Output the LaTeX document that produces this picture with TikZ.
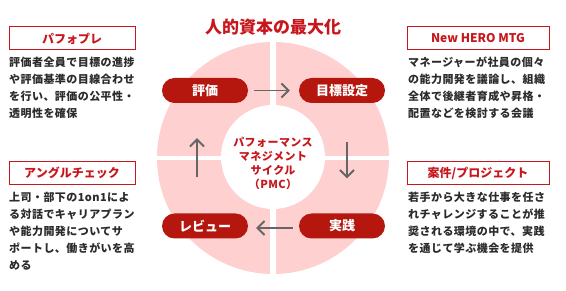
\documentclass[tikz,border=0pt]{standalone}
\usepackage{fontspec}
\setmainfont{Noto Sans CJK JP}
\newfontfamily\bodyfont{Noto Sans CJK JP}[LetterSpace=4]
\usetikzlibrary{arrows.meta,calc}
\definecolor{pmcred}{HTML}{B5170F}
\definecolor{titlered}{HTML}{C8161D}
\definecolor{pmcpink}{HTML}{FFD0D0}
\definecolor{bodygray}{HTML}{2B2B2B}
\definecolor{arrgray}{HTML}{666666}
\tikzset{
 pill/.style={fill=pmcred,text=white,rounded corners=12.5pt,minimum width=86pt,minimum height=25pt,inner sep=0pt,font=\bfseries\fontsize{13}{13}\selectfont},
 tagbox/.style={draw=titlered,line width=1pt,text=titlered,minimum height=23pt,inner sep=0pt,font=\bfseries\fontsize{12}{12}\selectfont},
 bodytext/.style={anchor=north west,align=left,inner sep=0pt,text=bodygray,font=\bodyfont\bfseries\fontsize{11}{17}\selectfont},
 cyc/.style={draw=arrgray,line width=1.9pt,-{Straight Barb[length=7pt,width=14pt]}}
}
\begin{document}
\begin{tikzpicture}[x=1pt,y=-1pt]
\useasboundingbox(0,0)rectangle(566,291);
% cycle disc
\node[circle,fill=pmcpink,minimum size=232pt,inner sep=0pt](ring)at(273,158){};
\draw[white,line width=6pt](ring.north)--(ring.south);\draw[white,line width=4pt](ring.west)--(ring.east);
\node[circle,fill=white,minimum size=104pt,inner sep=0pt](hub)at(273,157){};
\node[text=titlered,align=center,inner sep=0pt,font=\bodyfont\bfseries\fontsize{11}{14}\selectfont](pmc)at(273,163){パフォーマンス\\マネジメント\\サイクル\\（PMC）};
\node[text=titlered,font=\bfseries\fontsize{17}{17}\selectfont](title)at(273,27){人的資本の最大化};
% steps
\node[pill](hyoka)at(205,90.5){評価};\node[pill](mokuhyo)at(342,90.5){目標設定};
\node[pill](review)at(205,226){レビュー};\node[pill](jissen)at(342,226){実践};
\draw[cyc,shorten <=6pt,shorten >=9pt](hyoka)--(mokuhyo);\draw[cyc,shorten <=6pt,shorten >=8pt]([yshift=-2pt]jissen.west)--([yshift=-2pt]review.east);
\draw[cyc]($(mokuhyo.south)+(5,39)$)--($(jissen.north)+(5,-35)$);\draw[cyc]($(review.north)+(-8,-36)$)--($(hyoka.south)+(-8,35)$);
% side boxes
\node[tagbox,minimum width=126pt](pafo)at(72,38.5){パフォプレ};
\node[bodytext](pafotext)at(9,57){評価者全員で目標の進捗\\や評価基準の目線合わせ\\を行い、評価の公平性・\\透明性を確保};
\node[tagbox,minimum width=142pt](hero)at(478,38.5){New HERO MTG};
\node[bodytext](herotext)at(408,57){マネージャーが社員の個々\\の能力開発を議論し、組織\\全体で後継者育成や昇格・\\配置などを検討する会議};
\node[tagbox,minimum width=126pt](angle)at(72,173){アングルチェック};
\node[bodytext](angletext)at(9,192){上司・部下の1on1によ\\る対話でキャリアプラン\\や能力開発についてサ\\ポートし、働きがいを高\\める};
\node[tagbox,minimum width=142pt](anken)at(478,173){案件/プロジェクト};
\node[bodytext](ankentext)at(408,192){若手から大きな仕事を任さ\\れチャレンジすることが推\\奨される環境の中で、実践\\を通じて学ぶ機会を提供};
\end{tikzpicture}
\end{document}
